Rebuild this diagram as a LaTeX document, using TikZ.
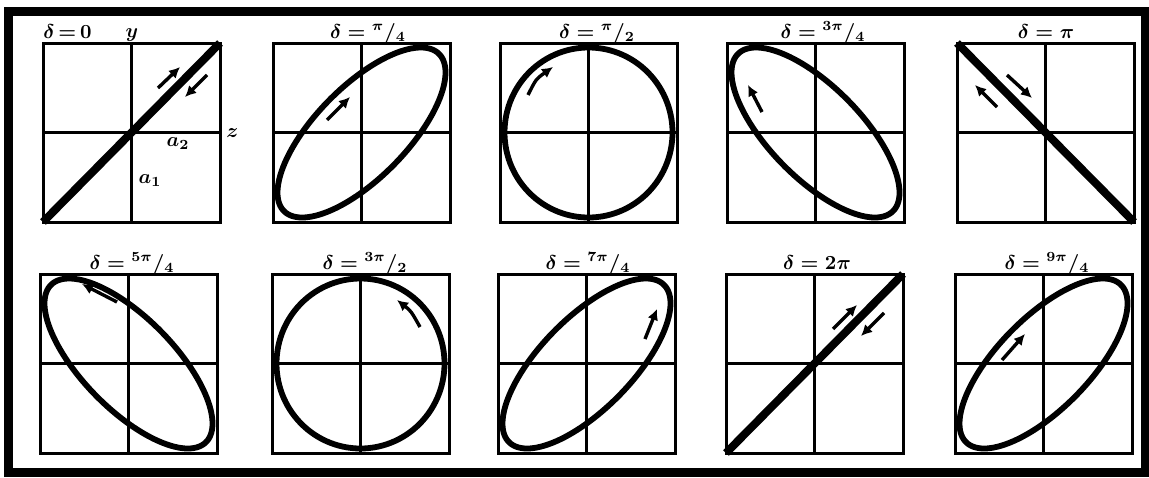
\documentclass[tikz,border=0pt]{standalone}
\usepackage{amsmath,amssymb}
\usepackage{tikz}
\usetikzlibrary{arrows.meta}
\tikzset{polbox/.style={line width=1.5pt},
 polcurve/.style={line width=2.9pt,line join=round},
 polline/.style={line width=4pt},
 polarr/.style={-{Latex[length=5.5pt,width=5.5pt]},line width=1.7pt},
 pollab/.style={font=\fontsize{10}{12}\selectfont\bfseries\boldmath,inner sep=0pt,anchor=base}}
\newcommand\phfrac[2]{{}^{#1}\mathord{/}{}_{#2}}

\begin{document}
\begin{tikzpicture}[x=0.5pt,y=-0.5pt]
\useasboundingbox (0,0) rectangle (1149,477);
\draw[line width=4.5pt] (8.5,11.5) rectangle (1145,472);
% boxes with axes
\foreach \i/\x/\y in {1/43/43,2/273/43,3/500/43,4/727/43,5/957/43,6/40/274,7/272/274,8/498/274,9/726/274,10/955/274}{
 \draw[polbox] (\x,\y) rectangle ++(177,179);
 \draw[polbox] (\x+88.5,\y) -- ++(0,179) (\x,\y+89.5) -- ++(177,0);
}
% ellipses
\foreach \x/\y/\d in {273/43/45,500/43/90,727/43/135,40/274/225,272/274/270,498/274/315,955/274/405}{
 \draw[polcurve] plot[variable=\t,domain=0:360,samples=121] ({\x+88.5+84*cos(\t)},{\y+89.5-85*cos(\t-\d)}) -- cycle;
}
% degenerate cases
\draw[polline] (43,222) -- (220,43);
\draw[polline] (957,43) -- (1134,222);
\draw[polline] (726,453) -- (903,274);
% labels
\node[pollab,anchor=base west] (lab1) at (43,38) {$\delta\,{=}\,0$};
\node[pollab] (yax) at (132,37) {$y$};
\node[pollab,anchor=west] (zax) at (226,133) {$z$};
\node[pollab,anchor=center] (amp2) at (178,144) {$a_2$};
\node[pollab,anchor=center] (amp1) at (150,181) {$a_1$};
\foreach \i/\x/\y/\lab in {2/368/38/{\phfrac{\pi}{4}},3/597/38/{\phfrac{\pi}{2}},4/823/38/{\phfrac{3\pi}{4}},5/1046/38/{\pi},
 6/132/269/{\phfrac{5\pi}{4}},7/365/269/{\phfrac{3\pi}{2}},8/588/269/{\phfrac{7\pi}{4}},9/817/269/{2\pi},10/1047/269/{\phfrac{9\pi}{4}}}{
 \node[pollab] (lab\i) at (\x,\y) {$\delta = \lab$};
}
% direction arrows
\draw[polarr] (158,88) -- (180,67);
\draw[polarr] (207,75) -- (185,97);
\draw[polarr] (327,120) -- (350,97);
\draw[polarr] (528,95) .. controls (536,79) .. (553,67);
\draw[polarr] (762,112) -- (748,85);
\draw[polarr] (997,107) -- (975,85);
\draw[polarr] (1007,75) -- (1032,98);
\draw[polarr] (117,302) -- (82,284);
\draw[polarr] (420,327) .. controls (411,311) .. (397,300);
\draw[polarr] (645,339) -- (657,309);
\draw[polarr] (833,329) -- (857,305);
\draw[polarr] (884,313) -- (861,336);
\draw[polarr] (1002,360) -- (1025,334);
\end{tikzpicture}
\end{document}
